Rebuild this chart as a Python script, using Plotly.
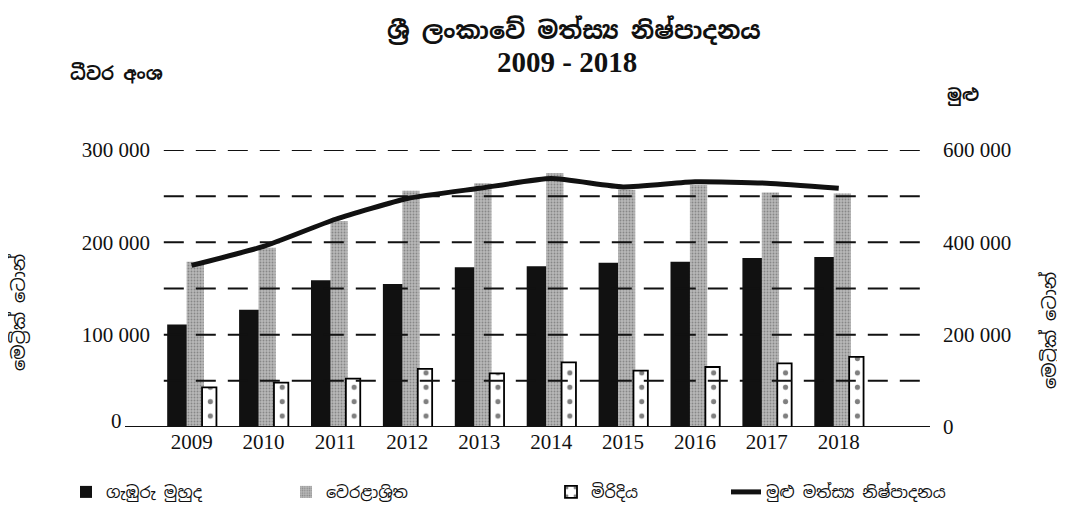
import plotly.graph_objects as go

years = ["2009", "2010", "2011", "2012", "2013", "2014", "2015", "2016", "2017", "2018"]
deep_sea = [111000, 127000, 159000, 155000, 173000, 174000, 178000, 179000, 183000, 184000]
coastal = [179000, 194000, 223000, 256000, 264000, 275000, 257000, 262000, 254000, 253000]
inland = [43000, 48000, 52500, 63000, 58000, 70000, 61000, 65000, 69000, 76000]
total = [350000, 391000, 450000, 495000, 517000, 538000, 520000, 531000, 528000, 517000]

left_ticks = [100000, 200000, 300000]
left_ticktext = ["100 000", "200 000", "300 000"]
right_ticks = [0, 200000, 400000, 600000]
right_ticktext = ["0", "200 000", "400 000", "600 000"]
grid_vals = [50000, 100000, 150000, 200000, 250000, 300000]

names = ["ගැඹුරු මුහුද", "වෙරළාශ්‍රිත", "මිරිදිය", "මුළු මත්ස්‍ය නිෂ්පාදනය"]

SIN = "Noto Sans Sinhala, Noto Serif Sinhala, Iskoola Pota, sans-serif"
SERIF = "Liberation Serif, Times New Roman, serif"

# page body adds an 8px margin; figure is sized/positioned to compensate
OFF = 8
W, H = 1065 - OFF, 507 - OFF
L, R, T, B = 160 - OFF, 920 - OFF, 150 - OFF, 427 - OFF
XMIN, XMAX = -0.44, 10.13
cat_px = (R - L) / (XMAX - XMIN)


def px(x):
    return (x - OFF - L) / (R - L)


def py(y):
    return (B - (y - OFF)) / (B - T)


fig = go.Figure()
fig.add_trace(go.Bar(
    x=years, y=deep_sea, name=names[0], width=0.28, offset=-0.34,
    marker=dict(color="#111111", line=dict(width=0)), legend="legend"))
fig.add_trace(go.Bar(
    x=years, y=coastal, name=names[1], width=0.24, offset=-0.07,
    marker=dict(color="#b0b0b0", line=dict(width=0),
                pattern=dict(shape=".", size=3, solidity=0.3,
                             fgcolor="#555555", bgcolor="#b8b8b8")),
    legend="legend2"))
fig.add_trace(go.Bar(
    x=years, y=inland, name=names[2], width=0.2, offset=0.145,
    marker=dict(color="white", line=dict(width=1.8, color="black"),
                pattern=dict(shape=".", size=cat_px / 5, solidity=0.1,
                             fgcolor="black", bgcolor="white")),
    legend="legend3"))
fig.add_trace(go.Scatter(
    x=years, y=total, name=names[3], mode="lines", yaxis="y2",
    line=dict(color="#111111", width=5, shape="spline", smoothing=0.5),
    legend="legend4"))

for v in grid_vals:
    fig.add_shape(type="line", xref="paper", yref="y", x0=0.005, x1=1.0,
                  y0=v, y1=v, layer="above",
                  line=dict(color="#111111", width=2, dash="20px,12px"))
# baseline
fig.add_shape(type="line", xref="paper", yref="y", x0=px(125), x1=px(930),
              y0=0, y1=0, layer="above", line=dict(color="#111111", width=2))

ann = [
    dict(text="<b>ශ්‍රී ලංකාවේ මත්ස්‍ය නිෂ්පාදනය</b>", x=574, y=30, font=dict(family=SIN, size=24)),
    dict(text="<b>2009 - 2018</b>", x=567, y=62, font=dict(family=SERIF, size=29)),
    dict(text="<b>ධීවර අංශ</b>", x=116, y=73, font=dict(family=SIN, size=18)),
    dict(text="<b>මුළු</b>", x=963, y=95, font=dict(family=SIN, size=17)),
    dict(text="0", x=116, y=421, font=dict(family=SERIF, size=21)),
    dict(text="මෙට්‍රික් ටොන්", x=18, y=312, textangle=-90, font=dict(family=SIN, size=18)),
    dict(text="මෙට්‍රික් ටොන්", x=1049, y=330, textangle=-90, font=dict(family=SIN, size=18)),
]
annotations = []
for a in ann:
    annotations.append(dict(text=a["text"], x=px(a["x"]), y=py(a["y"]),
                            xref="paper", yref="paper",
                            xanchor="center", yanchor="middle", showarrow=False,
                            textangle=a.get("textangle", 0),
                            font=dict(color="#111111", **a["font"])))

leg_y = 1 - (492 - OFF) / H
leg_common = dict(orientation="h", xref="container", yref="container",
                  yanchor="middle", xanchor="left", bgcolor="rgba(0,0,0,0)",
                  font=dict(family=SIN, size=16, color="#111111"))
fig.update_layout(
    width=W, height=H,
    paper_bgcolor="white", plot_bgcolor="white",
    margin=dict(l=L, r=W - R, t=T, b=H - B),
    barmode="overlay",
    annotations=annotations,
    xaxis=dict(range=[XMIN, XMAX], showgrid=False, showline=False, ticks="",
               tickfont=dict(family=SERIF, size=21, color="#111111")),
    yaxis=dict(range=[0, 300000], tickvals=left_ticks, ticktext=left_ticktext,
               showgrid=False, zeroline=False, showline=False, ticks="",
               ticklabelstandoff=9,
               tickfont=dict(family=SERIF, size=21, color="#111111")),
    yaxis2=dict(range=[0, 600000], overlaying="y", side="right",
                tickvals=right_ticks, ticktext=right_ticktext,
                showgrid=False, zeroline=False, showline=False, ticks="",
                ticklabelstandoff=22,
                tickfont=dict(family=SERIF, size=21, color="#111111")),
    showlegend=True,
    legend=dict(x=(100 - 34 - OFF) / W, y=leg_y, **leg_common),
    legend2=dict(x=(320 - 34 - OFF) / W, y=leg_y, **leg_common),
    legend3=dict(x=(585 - 34 - OFF) / W, y=leg_y, **leg_common),
    legend4=dict(x=(760 - 34 - OFF) / W, y=leg_y, **leg_common),
)

fig.write_html("out.html")
